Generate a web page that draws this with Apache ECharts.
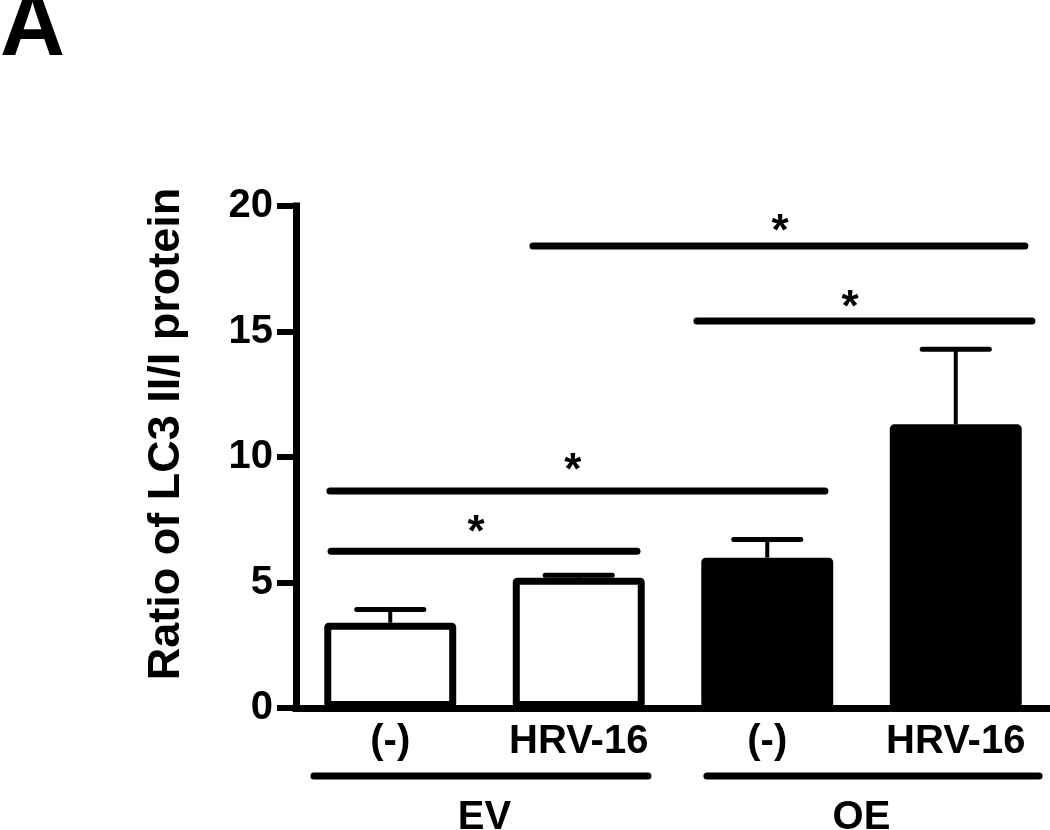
<!DOCTYPE html>
<html>
<head>
<meta charset="utf-8">
<script src="https://cdn.jsdelivr.net/npm/echarts@6/dist/echarts.min.js"></script>
<style>
  html, body { margin: 0; padding: 0; background: #fff; }
  #chart { width: 1050px; height: 830px; }
</style>
</head>
<body>
<div id="chart"></div>
<script>
// data
const categories = ['(-)', 'HRV-16', '(-)', 'HRV-16'];
const groups = ['EV', 'OE'];
const means = [3.4, 5.19, 5.99, 11.3];
const upper = [3.92, 5.29, 6.71, 14.29];
const fills = ['#ffffff', '#ffffff', '#000000', '#000000'];
const yMin = 0, yMax = 20, yStep = 5;
// significance bars: [from, to, height], x in category units
const sigLines = [[-0.314, 1.309, 6.25], [-0.32, 2.306, 8.65], [1.627, 3.404, 15.42], [0.757, 3.367, 18.41]];
const stars = [[0.455, 7.29], [0.969, 9.76], [2.439, 16.25], [2.068, 19.28]];
// group underlines (EV, OE), x in category units
const groupSpans = [[-0.405, 1.367], [1.68, 3.442]];

const FONT = '"Liberation Sans", Arial, sans-serif';
const chart = echarts.init(document.getElementById('chart'));

const option = {
  animation: false,
  backgroundColor: '#fff',
  grid: { left: 296, right: 0, top: 206, bottom: 122, containLabel: false, outerBoundsMode: 'none' },
  graphic: [
    {
      type: 'text', left: 0, top: -15,
      style: { text: 'A', font: 'bold 90px ' + FONT, fill: '#000' }
    },
    {
      type: 'text', x: 167, y: 434, rotation: Math.PI / 2,
      style: { text: 'Ratio of LC3 II/I protein', font: 'bold 45px ' + FONT, fill: '#000', align: 'center', verticalAlign: 'middle' }
    }
  ],
  xAxis: [
    {
      type: 'category', data: categories,
      axisLine: { lineStyle: { color: '#000', width: 7, cap: 'square' } },
      axisTick: { show: false },
      axisLabel: { color: '#000', fontSize: 40, fontWeight: 'bold', fontFamily: FONT, margin: 14, interval: 0 }
    },
    { type: 'value', min: -0.5, max: 3.5, show: false },
    {
      type: 'category', data: groups, position: 'bottom', offset: 82,
      axisLine: { show: false }, axisTick: { show: false },
      axisLabel: { color: '#000', fontSize: 40, fontWeight: 'bold', fontFamily: FONT, margin: 8 }
    }
  ],
  yAxis: {
    type: 'value', min: yMin, max: yMax, interval: yStep,
    splitLine: { show: false },
    axisLine: { show: true, onZero: false, lineStyle: { color: '#000', width: 7, cap: 'square' } },
    axisTick: { show: true, length: 19, lineStyle: { color: '#000', width: 6 } },
    axisLabel: { color: '#000', fontSize: 40, fontWeight: 'bold', fontFamily: FONT, margin: 23 }
  },
  series: [
    {
      type: 'custom', xAxisIndex: 0, z: 1,
      data: means.map((m, i) => [i, m, upper[i]]),
      renderItem: function (params, api) {
        const base = api.coord([api.value(0), api.value(1)]);
        const top = api.coord([api.value(0), api.value(2)]);
        const half = api.size([1, 0])[0] * 0.178;
        return {
          type: 'group', children: [
            { type: 'line', shape: { x1: base[0], y1: base[1], x2: top[0], y2: top[1] }, style: { stroke: '#000', lineWidth: 4 } },
            { type: 'line', shape: { x1: top[0] - half, y1: top[1], x2: top[0] + half, y2: top[1] }, style: { stroke: '#000', lineWidth: 5, lineCap: 'round' } }
          ]
        };
      }
    },
    {
      type: 'bar', xAxisIndex: 0, z: 2, barWidth: '70%',
      data: means.map((m, i) => ({ value: m, itemStyle: { color: fills[i] } })),
      itemStyle: { borderColor: '#000', borderWidth: 7, borderRadius: 1 }
    },
    {
      type: 'custom', xAxisIndex: 1, z: 3, clip: false,
      data: sigLines,
      renderItem: function (params, api) {
        const a = api.coord([api.value(0), api.value(2)]);
        const b = api.coord([api.value(1), api.value(2)]);
        return { type: 'line', shape: { x1: a[0], y1: a[1], x2: b[0], y2: b[1] }, style: { stroke: '#000', lineWidth: 7, lineCap: 'round' } };
      }
    },
    {
      type: 'custom', xAxisIndex: 1, z: 3, clip: false,
      data: stars,
      renderItem: function (params, api) {
        const p = api.coord([api.value(0), api.value(1)]);
        return { type: 'text', x: p[0], y: p[1] + 9, style: { text: '*', font: 'bold 44px ' + FONT, fill: '#000', align: 'center', verticalAlign: 'middle' } };
      }
    },
    {
      type: 'custom', xAxisIndex: 1, z: 3, clip: false,
      data: groupSpans,
      renderItem: function (params, api) {
        const a = api.coord([api.value(0), 0]);
        const b = api.coord([api.value(1), 0]);
        const y = a[1] + 68;
        return { type: 'line', shape: { x1: a[0], y1: y, x2: b[0], y2: y }, style: { stroke: '#000', lineWidth: 7, lineCap: 'round' } };
      }
    }
  ]
};

chart.setOption(option);
</script>
</body>
</html>
